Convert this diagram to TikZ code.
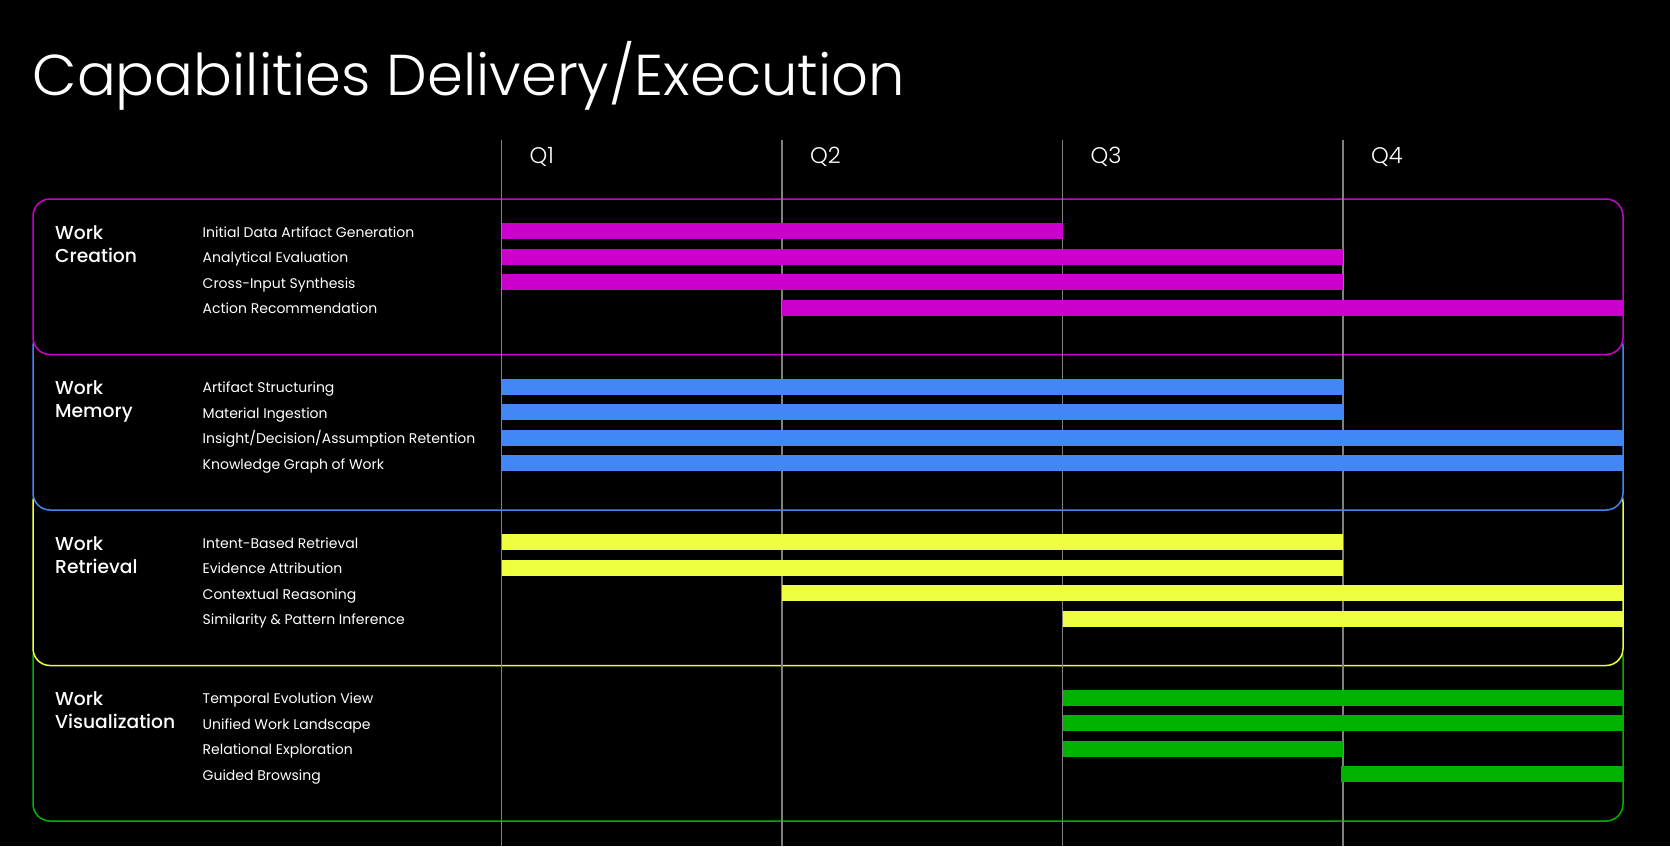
\documentclass[tikz,border=0pt]{standalone}
\usepackage{fontspec}
\setmainfont{Poppins}
\newfontfamily\poplight{Poppins Light}
\newfontfamily\popmed{Poppins Medium}
\definecolor{vmag}{RGB}{204,0,204}
\definecolor{vblue}{RGB}{66,135,245}
\definecolor{vyellow}{RGB}{238,255,65}
\definecolor{vgreen}{RGB}{0,178,0}
\definecolor{qgray}{RGB}{128,128,128}
\newcommand\gantrow[7]{%
  \pgfmathsetmacro\rc{199+#2*155.5+32+#3*25.6}%
  \node[item] (#1) at (202.5,\rc+6) {#4};
  \fill[#7] (#5,\rc-8) rectangle (#6,\rc+8);
}
\begin{document}
\begin{tikzpicture}[x=1pt,y=-1pt,
  titletext/.style={font=\poplight\fontsize{57.6}{60}\selectfont, text=white, anchor=base west, inner sep=0pt},
  qlabel/.style={font=\poplight\fontsize{22.5}{26}\selectfont, text=white, anchor=base west, inner sep=0pt},
  cat/.style={font=\popmed\fontsize{18.7}{23}\selectfont, text=white, anchor=base west, inner sep=0pt},
  item/.style={font=\fontsize{14}{17}\selectfont, text=white, anchor=base west, inner sep=0pt},
  qline/.style={draw=qgray, line width=1.5pt},
  grpbox/.style={line width=1.5pt, rounded corners=17pt, fill=black},
]
\fill[black] (0,0) rectangle (1670,846);
\useasboundingbox (0,0) rectangle (1670,846);

% title
\node[titletext] (title) at (32.5,95) {Capabilities Delivery/Execution};

% group boxes (drawn bottom first so upper boxes overlap)
\draw[grpbox, draw=vgreen]  (33,665.5-25) rectangle (1623,821);
\draw[grpbox, draw=vyellow] (33,510-25) rectangle (1623,665.5);
\draw[grpbox, draw=vblue]   (33,354.5-25) rectangle (1623,510);
\draw[grpbox, draw=vmag]    (33,199) rectangle (1623,354.5);

% quarter lines and labels
\foreach \i/\q in {0/Q1,1/Q2,2/Q3,3/Q4}{
  \pgfmathsetmacro\qx{501.5+\i*280.5}
  \coordinate (top\q) at (\qx,139.5);
  \coordinate (bot\q) at (\qx,846);
  \draw[qline] (top\q) -- (bot\q);
  \node[qlabel] (lab\q) at (\qx+28,163) {\q};
}

% category labels
\foreach \g/\nm/\second in {0/crea/Creation,1/memo/Memory,2/retr/Retrieval,3/visu/Visualization}{
  \pgfmathsetmacro\tg{199+\g*155.5}
  \node[cat] (\nm a) at (55,\tg+40.3) {Work};
  \node[cat] (\nm b) at (55,\tg+63.3) {\second};
}

% Work Creation
\gantrow{c1}{0}{0}{Initial Data Artifact Generation}{501.5}{1062.5}{vmag}
\gantrow{c2}{0}{1}{Analytical Evaluation}{501.5}{1343}{vmag}
\gantrow{c3}{0}{2}{Cross-Input Synthesis}{501.5}{1343}{vmag}
\gantrow{c4}{0}{3}{Action Recommendation}{782}{1623}{vmag}
% Work Memory
\gantrow{m1}{1}{0}{Artifact Structuring}{501.5}{1343}{vblue}
\gantrow{m2}{1}{1}{Material Ingestion}{501.5}{1343}{vblue}
\gantrow{m3}{1}{2}{Insight/Decision/Assumption Retention}{501.5}{1623}{vblue}
\gantrow{m4}{1}{3}{Knowledge Graph of Work}{501.5}{1623}{vblue}
% Work Retrieval
\gantrow{r1}{2}{0}{Intent-Based Retrieval}{501.5}{1343}{vyellow}
\gantrow{r2}{2}{1}{Evidence Attribution}{501.5}{1343}{vyellow}
\gantrow{r3}{2}{2}{Contextual Reasoning}{782}{1623}{vyellow}
\gantrow{r4}{2}{3}{Similarity \& Pattern Inference}{1062.5}{1623}{vyellow}
% Work Visualization
\gantrow{v1}{3}{0}{Temporal Evolution View}{1062.5}{1623}{vgreen}
\gantrow{v2}{3}{1}{Unified Work Landscape}{1062.5}{1623}{vgreen}
\gantrow{v3}{3}{2}{Relational Exploration}{1062.5}{1343}{vgreen}
\gantrow{v4}{3}{3}{Guided Browsing}{1341}{1623}{vgreen}
\end{tikzpicture}
\end{document}
